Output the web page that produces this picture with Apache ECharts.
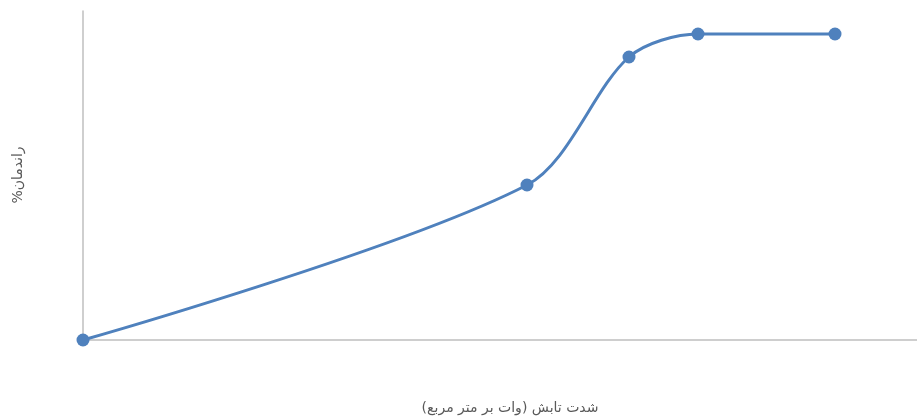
<!DOCTYPE html>
<html>
<head>
<meta charset="utf-8">
<script src="https://cdn.jsdelivr.net/npm/echarts@6/dist/echarts.min.js"></script>
<style>html,body{margin:0;padding:0;background:#fff}#c{width:917px;height:419px}</style>
</head>
<body>
<div id="c"></div>
<script>
var xValues = [0, 444, 546, 615, 752];
var yValues = [0, 155, 283, 306, 306];
var xTitle = 'شدت تابش (وات بر متر مربع)';
var yTitle = 'راندمان%';
var RLM = '\u200F';

var chart = echarts.init(document.getElementById('c'));
chart.setOption({
  animation: false,
  grid: {left: 83, right: 0, top: 11, bottom: 79, containLabel: false, outerBoundsMode: 'none'},
  xAxis: {
    type: 'value', min: 0, max: 834,
    axisLine: {show: true, lineStyle: {color: '#BFBFBF', width: 1.5}},
    axisTick: {show: false}, axisLabel: {show: false}, splitLine: {show: false}
  },
  yAxis: {
    type: 'value', min: 0, max: 329,
    axisLine: {show: true, lineStyle: {color: '#BFBFBF', width: 1.5}},
    axisTick: {show: false}, axisLabel: {show: false}, splitLine: {show: false}
  },
  graphic: [{
    type: 'text', x: 510, y: 408,
    style: {text: RLM + xTitle + RLM, fill: '#595959', font: '14px "DejaVu Sans"',
            align: 'center', verticalAlign: 'middle'}
  }, {
    type: 'text', x: 18, y: 175, rotation: Math.PI / 2,
    style: {text: RLM + yTitle + RLM, fill: '#595959', font: '14px "DejaVu Sans"',
            align: 'center', verticalAlign: 'middle'}
  }],
  series: [{
    type: 'line',
    data: xValues.map(function (x, i) { return [x, yValues[i]]; }),
    smooth: 0.3,
    symbol: 'circle', symbolSize: 13,
    lineStyle: {color: '#4F81BD', width: 3},
    itemStyle: {color: '#4F81BD'}
  }]
});
</script>
</body>
</html>
